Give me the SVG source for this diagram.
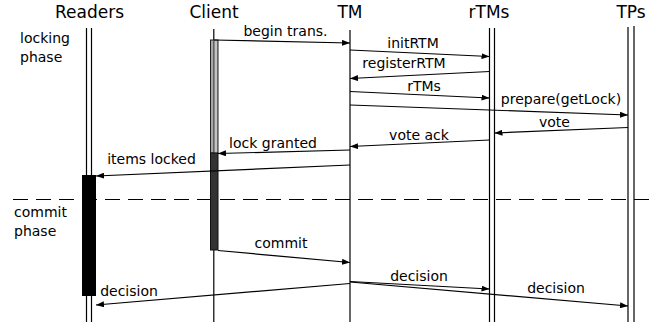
<svg xmlns="http://www.w3.org/2000/svg" width="650" height="322" viewBox="0 0 650 322">
  <style>
    text { font-family: "DejaVu Sans", "Liberation Sans", sans-serif; fill: #000; }
    .head { font-size: 17px; text-anchor: middle; }
    .lbl { font-size: 14px; text-anchor: middle; }
    .side { font-size: 14px; }
    .life { stroke: #000; stroke-width: 1.2; fill: none; }
    .msg { stroke: #000; stroke-width: 1.2; fill: none; marker-end: url(#ah); }
    .phase { stroke: #000; stroke-width: 1.2; stroke-dasharray: 15 8; fill: none; }
  </style>
  <defs>
    <marker id="ah" viewBox="0 0 8 6" refX="8" refY="3" markerWidth="8" markerHeight="6" orient="auto" markerUnits="userSpaceOnUse">
      <path d="M0,0 L8,3 L0,6 z" fill="#000"/>
    </marker>
  </defs>
  <rect width="650" height="322" fill="#fff"/>

  <!-- phase labels and separator -->
  <g id="phases">
    <text class="side" x="20" y="43">locking</text>
    <text class="side" x="20" y="62">phase</text>
    <text class="side" x="14" y="217">commit</text>
    <text class="side" x="14" y="236">phase</text>
    <line class="phase" x1="13" y1="199.5" x2="650" y2="199.5"/>
  </g>

  <!-- lifelines -->
  <g id="readers">
    <text class="head" x="89.5" y="18">Readers</text>
    <line class="life" x1="86.5" y1="28" x2="86.5" y2="322"/>
    <line class="life" x1="91.5" y1="28" x2="91.5" y2="322"/>
    <rect x="82" y="175" width="14" height="121" fill="#000"/>
  </g>
  <g id="client">
    <text class="head" x="214" y="18">Client</text>
    <line class="life" x1="213.8" y1="29" x2="213.8" y2="322"/>
    <rect x="210.5" y="40" width="7.5" height="113" fill="#a8a8a8" stroke="#222" stroke-width="1"/>
    <line x1="213.8" y1="40" x2="213.8" y2="153" stroke="#444" stroke-width="1"/>
    <line x1="216" y1="40.5" x2="216" y2="153" stroke="#e0e0e0" stroke-width="1"/>
    <rect x="210.5" y="153" width="7.5" height="97" fill="#333" stroke="#111" stroke-width="1"/>
  </g>
  <g id="tm">
    <text class="head" x="350" y="18">TM</text>
    <line class="life" x1="350" y1="30" x2="350" y2="322"/>
  </g>
  <g id="rtms">
    <text class="head" x="489" y="18">rTMs</text>
    <line class="life" x1="489.5" y1="28" x2="489.5" y2="322"/>
    <line class="life" x1="494.5" y1="28" x2="494.5" y2="322"/>
  </g>
  <g id="tps">
    <text class="head" x="631" y="18">TPs</text>
    <line class="life" x1="628" y1="27" x2="628" y2="322"/>
    <line class="life" x1="634" y1="26" x2="634" y2="322"/>
  </g>

  <!-- messages -->
  <g id="connectors">
    <line class="msg" x1="214" y1="40" x2="350" y2="43"/>
    <line class="msg" x1="350" y1="50" x2="489.5" y2="56.5"/>
    <line class="msg" x1="489.5" y1="71.5" x2="350" y2="78.5"/>
    <line class="msg" x1="350" y1="91.5" x2="489.5" y2="98"/>
    <line class="msg" x1="350" y1="105" x2="628" y2="115"/>
    <line class="msg" x1="628" y1="127.5" x2="494.5" y2="133"/>
    <line class="msg" x1="489.5" y1="140" x2="350" y2="146.5"/>
    <line class="msg" x1="350" y1="150" x2="218" y2="153.5"/>
    <line class="msg" x1="350" y1="165" x2="96" y2="176"/>
    <line class="msg" x1="218" y1="250.5" x2="350" y2="262.5"/>
    <line class="msg" x1="350" y1="283.5" x2="96" y2="305"/>
    <line class="msg" x1="350" y1="281.5" x2="489.5" y2="289"/>
    <line class="msg" x1="350" y1="282" x2="628" y2="306"/>
  </g>

  <!-- message labels -->
  <g id="labels">
    <text class="lbl" x="285.5" y="36">begin trans.</text>
    <text class="lbl" x="413" y="48">initRTM</text>
    <text class="lbl" x="404" y="68">registerRTM</text>
    <text class="lbl" x="424" y="91">rTMs</text>
    <text class="lbl" x="561" y="104">prepare(getLock)</text>
    <text class="lbl" x="554.5" y="126.5">vote</text>
    <text class="lbl" x="419" y="140">vote ack</text>
    <text class="lbl" x="273" y="147.5">lock granted</text>
    <text class="lbl" x="151.5" y="164">items locked</text>
    <text class="lbl" x="281" y="248">commit</text>
    <text class="lbl" x="129" y="296">decision</text>
    <text class="lbl" x="419" y="281">decision</text>
    <text class="lbl" x="556" y="292.5">decision</text>
  </g>
</svg>
